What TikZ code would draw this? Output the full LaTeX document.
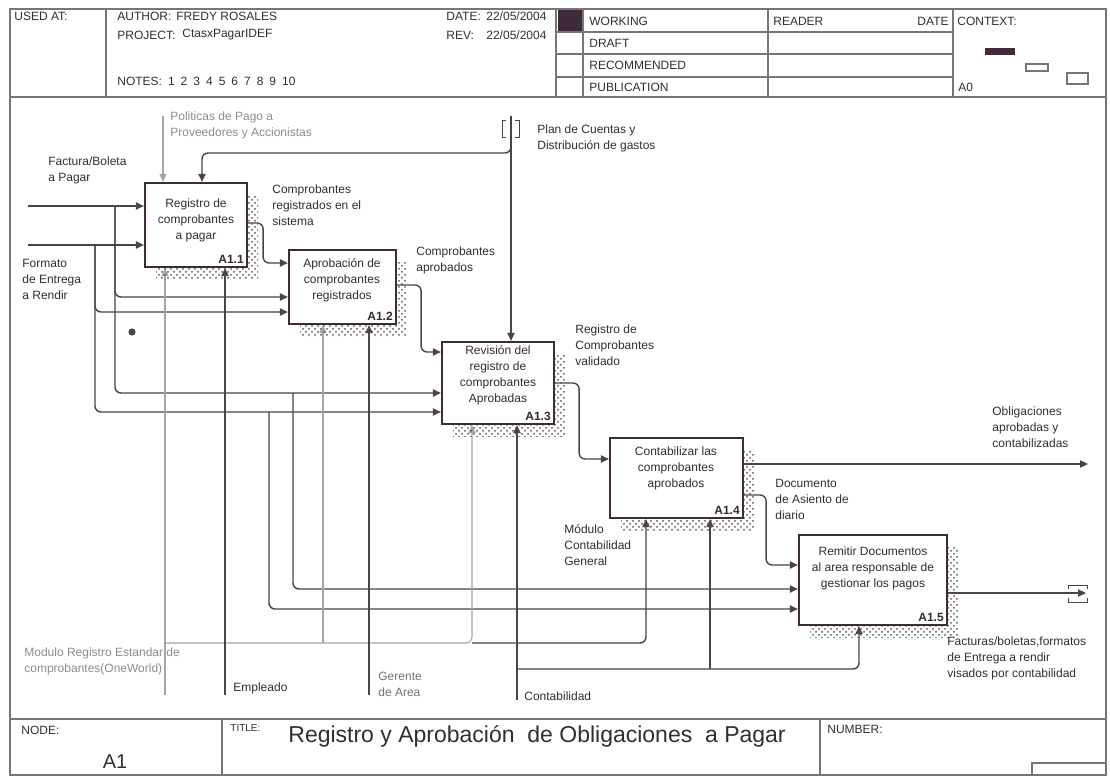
\documentclass[tikz,border=0pt]{standalone}
\usepackage{fontspec}
\setmainfont{Liberation Sans}
\usetikzlibrary{arrows.meta, shadows, patterns}
\definecolor{boxcol}{RGB}{62,42,56}
\definecolor{linecol}{RGB}{76,66,74}
\definecolor{greycol}{RGB}{165,165,165}
\definecolor{framecol}{RGB}{118,118,118}
\definecolor{textcol}{RGB}{52,44,50}
\pgfdeclarelayer{edgelayer}
\pgfdeclarelayer{nodelayer}
\pgfsetlayers{edgelayer,nodelayer,main}
\tikzstyle{flow}=[draw=linecol, line width=0.7pt, rounded corners=3pt, -{Triangle[length=4pt,width=3.6pt]}]
\tikzstyle{greyflow}=[flow, draw=greycol, line width=0.55pt]
\tikzstyle{proc}=[rectangle, draw=boxcol, line width=1.1pt, fill=white, inner sep=0pt, general shadow={shadow xshift=5.5pt, shadow yshift=-6pt, pattern=crosshatch dots, pattern color=black!65}]
\tikzstyle{proctext}=[align=center, text=textcol, font=\fontsize{6}{8}\selectfont, inner sep=0pt]
\tikzstyle{procnum}=[anchor=south east, text=textcol, font=\fontsize{6}{7}\selectfont\bfseries, inner sep=2pt]
\tikzstyle{lbl}=[anchor=north west, align=left, text=textcol, font=\fontsize{6}{8}\selectfont, inner sep=0pt]
\tikzstyle{greylbl}=[lbl, text=greycol!85!black]
\tikzstyle{head}=[anchor=west, text=textcol, font=\fontsize{6}{7}\selectfont, inner sep=0pt]
\tikzstyle{border}=[draw=framecol, line width=0.8pt]
\begin{document}
\begin{tikzpicture}[x=0.5pt, y=-0.5pt]
	\useasboundingbox (0,0) rectangle (1110,776);
	\draw [style=border] (10,9) rectangle (1106,775);
	\draw [style=border] (10,97) to (1106,97);
	\draw [style=border] (10,719) to (1106,719);
	\foreach \x in {106,556,583,768,953}
		\draw [style=border] (\x,9) to (\x,97);
	\foreach \y in {32,54,77}
		\draw [style=border] (556,\y) to (953,\y);
	\draw [style=border] (222,719) to (222,775);
	\draw [style=border] (820,719) to (820,775);
	\draw [style=border] (1032,775) |- (1106,763);
	\fill [boxcol] (558,10) rectangle (582,31);
	\fill [boxcol] (985,48) rectangle (1015,55);
	\draw [style=border, line width=0.6pt] (1026,64) rectangle (1048,71);
	\draw [style=border, line width=0.6pt] (1067,73) rectangle (1088,84);
	\begin{pgfonlayer}{nodelayer}
		\node [style=proc, minimum width=51pt, minimum height=42pt] (a11) at (196,225) {};
		\node [style=proc, minimum width=53.5pt, minimum height=37pt] (a12) at (342.5,287) {};
		\node [style=proc, minimum width=56pt, minimum height=41pt] (a13) at (498,383) {};
		\node [style=proc, minimum width=66.5pt, minimum height=40pt] (a14) at (676.5,478) {};
		\node [style=proc, minimum width=74pt, minimum height=45pt] (a15) at (873,580) {};
		\node [style=proctext] (a11txt) at (196,220) {Registro de\\comprobantes\\a pagar};
		\node [style=proctext] (a12txt) at (342,280) {Aprobación de\\comprobantes\\registrados};
		\node [style=proctext] (a13txt) at (498,375) {Revisión del\\registro de\\comprobantes\\Aprobadas};
		\node [style=proctext] (a14txt) at (676,468) {Contabilizar las\\comprobantes\\aprobados};
		\node [style=proctext] (a15txt) at (873,568) {Remitir Documentos\\al area responsable de\\gestionar los pagos};
		\node [style=procnum] (a11num) at (a11.south east) {A1.1};
		\node [style=procnum] (a12num) at (a12.south east) {A1.2};
		\node [style=procnum] (a13num) at (a13.south east) {A1.3};
		\node [style=procnum] (a14num) at (a14.south east) {A1.4};
		\node [style=procnum] (a15num) at (a15.south east) {A1.5};
		\node [style=greylbl] (polt) at (170,111) {Politicas de Pago a\\Proveedores y Accionistas};
		\node [style=lbl] (factt) at (48,156) {Factura/Boleta\\a Pagar};
		\node [style=lbl] (formt) at (22,259) {Formato\\de Entrega\\a Rendir};
		\node [style=lbl] (regt) at (272,184) {Comprobantes\\registrados en el\\sistema};
		\node [style=lbl] (plant) at (537,124) {Plan de Cuentas y\\Distribución de gastos};
		\node [style=lbl] (aprt) at (416,246) {Comprobantes\\aprobados};
		\node [style=lbl] (valt) at (575,324) {Registro de\\Comprobantes\\validado};
		\node [style=lbl] (oblt) at (992,406) {Obligaciones\\aprobadas y\\contabilizadas};
		\node [style=lbl] (doct) at (775,479) {Documento\\de Asiento de\\diario};
		\node [style=lbl] (modt) at (564,524) {Módulo\\Contabilidad\\General};
		\node [style=lbl] (vist) at (947,636) {Facturas/boletas,formatos\\de Entrega a rendir\\visados por contabilidad};
		\node [style=greylbl] (regstdt) at (24,647) {Modulo Registro Estandar de\\comprobantes(OneWorld)};
		\node [style=lbl] (empt) at (233,682) {Empleado};
		\node [style=lbl, text=black!55] (gert) at (378,672) {Gerente\\de Area};
		\node [style=lbl] (contt) at (524,691) {Contabilidad};
		\node [style=head] (usedat) at (14,16) {USED AT:};
		\node [style=head] (author) at (117,16) {AUTHOR:};
		\node [style=head] (authorv) at (176,16) {FREDY ROSALES};
		\node [style=head] (project) at (117,35) {PROJECT:};
		\node [style=head] (projectv) at (182,35) {CtasxPagarIDEF};
		\node [style=head] (notes) at (117,81) {NOTES:\enspace 1\enspace 2\enspace 3\enspace 4\enspace 5\enspace 6\enspace 7\enspace 8\enspace 9\enspace 10};
		\node [style=head] (date) at (446,16) {DATE:};
		\node [style=head] (datev) at (486,16) {22/05/2004};
		\node [style=head] (rev) at (446,35) {REV:};
		\node [style=head] (revv) at (486,35) {22/05/2004};
		\node [style=head] (working) at (589,21) {WORKING};
		\node [style=head] (draft) at (589,43) {DRAFT};
		\node [style=head] (recom) at (589,65) {RECOMMENDED};
		\node [style=head] (pub) at (589,87) {PUBLICATION};
		\node [style=head] (reader) at (773,21) {READER};
		\node [style=head, anchor=east] (rdate) at (949,21) {DATE};
		\node [style=head] (context) at (957,21) {CONTEXT:};
		\node [style=head] (ctxnode) at (958,87) {A0};
		\node [style=head] (nodelbl) at (21,730) {NODE:};
		\node [style=head, font=\fontsize{5}{6}\selectfont] (titlelbl) at (230,728) {TITLE:};
		\node [style=head] (numberlbl) at (827,729) {NUMBER:};
		\node [text=textcol, font=\fontsize{10}{12}\selectfont, inner sep=0pt] (nodeid) at (115,762) {A1};
		\node [style=head, font=\fontsize{11.5}{13}\selectfont] (title) at (288,736) {Registro y Aprobación\ \ de Obligaciones\ \ a Pagar};
	\end{pgfonlayer}
	\begin{pgfonlayer}{edgelayer}
		\coordinate (f1) at (28,206);
		\coordinate (f2) at (28,245);
		\coordinate (j1) at (115,206);
		\coordinate (j2) at (95,245);
		\coordinate (j6) at (293,393);
		\coordinate (j7) at (269,412);
		\coordinate (pol) at (163,116);
		\coordinate (plan) at (511,116);
		\coordinate (j3) at (511,143);
		\coordinate (c11) at (202,153);
		\coordinate (mr) at (165,695);
		\coordinate (j4) at (165,643);
		\coordinate (m12) at (323,643);
		\coordinate (m13) at (472,643);
		\coordinate (m14) at (646,643);
		\coordinate (emp) at (225,695);
		\coordinate (ger) at (369,695);
		\coordinate (cont) at (517,700);
		\coordinate (j5) at (517,669);
		\coordinate (m14b) at (710,669);
		\coordinate (m15) at (859,669);
		\coordinate (out1) at (1088,464);
		\coordinate (out2) at (1086,593);
		\coordinate (a12i0) at ([yshift=12pt]a12.west);
		\coordinate (a12i1) at ([yshift=-5pt]a12.west);
		\coordinate (a12i2) at ([yshift=-12.5pt]a12.west);
		\coordinate (a13i0) at ([yshift=15.5pt]a13.west);
		\coordinate (a13i1) at ([yshift=-5pt]a13.west);
		\coordinate (a13i2) at ([yshift=-14.5pt]a13.west);
		\coordinate (a14i0) at ([yshift=9.5pt]a14.west);
		\coordinate (a15i0) at ([yshift=7.5pt]a15.west);
		\coordinate (a15i1) at ([yshift=-4.5pt]a15.west);
		\coordinate (a15i2) at ([yshift=-14.5pt]a15.west);
		\coordinate (a11o) at ([yshift=1pt]a11.east);
		\coordinate (a12o) at ([yshift=1pt]a12.east);
		\coordinate (a14o1) at ([yshift=7pt]a14.east);
		\coordinate (a14o2) at ([yshift=-8.5pt]a14.east);
		\coordinate (a15o) at ([yshift=-6.5pt]a15.east);
		\draw [style=flow] (f1) to (f1 -| a11.west);
		\draw [style=flow] (f2) to (f2 -| a11.west);
		\draw [style=flow] (j1) |- (a12i1);
		\draw [style=flow] (j1) |- (a13i1);
		\draw [style=flow] (j2) |- (a12i2);
		\draw [style=flow] (j2) |- (a13i2);
		\draw [style=flow] (j6) |- (a15i1);
		\draw [style=flow] (j7) |- (a15i2);
		\draw [style=greyflow] (pol) to (pol |- a11.north);
		\draw [style=flow] (plan) to (plan |- a13.north);
		\draw [style=flow] (j3) |- (c11) -- (c11 |- a11.north);
		\draw [style=greyflow] (mr) to (mr |- a11.south);
		\draw [style=greyflow] (j4) -| (m13 |- a13.south);
		\draw [style=greyflow] (m12) to (m12 |- a12.south);
		\draw [style=flow] (m13) -| (m14 |- a14.south);
		\draw [style=flow] (emp) to (emp |- a11.south);
		\draw [style=flow] (ger) to (ger |- a12.south);
		\draw [style=flow] (cont) to (cont |- a13.south);
		\draw [style=flow] (j5) -| (m15 |- a15.south);
		\draw [style=flow] (m14b) to (m14b |- a14.south);
		\draw [style=flow] (a11o) -- ++(7.5pt,0) |- (a12i0);
		\draw [style=flow] (a12o) -- ++(12pt,0) |- (a13i0);
		\draw [style=flow] (a13.east) -- ++(12pt,0) |- (a14i0);
		\draw [style=flow] (a14o1) to (out1);
		\draw [style=flow] (a14o2) -- ++(11pt,0) |- (a15i0);
		\draw [style=flow] (a15o) to (out2);
	\end{pgfonlayer}
	\draw [linecol, line width=0.5pt] (506,120) -- (502,120) -- (502,137) -- (506,137);
	\draw [linecol, line width=0.5pt] (515,120) -- (519,120) -- (519,137) -- (515,137);
	\draw [linecol, line width=0.5pt] (1068,589) -- (1068,585) -- (1087,585) -- (1087,589);
	\draw [linecol, line width=0.5pt] (1068,598) -- (1068,602) -- (1087,602) -- (1087,598);
	\fill [linecol] (132,332) circle (1.8pt);
\end{tikzpicture}
\end{document}
